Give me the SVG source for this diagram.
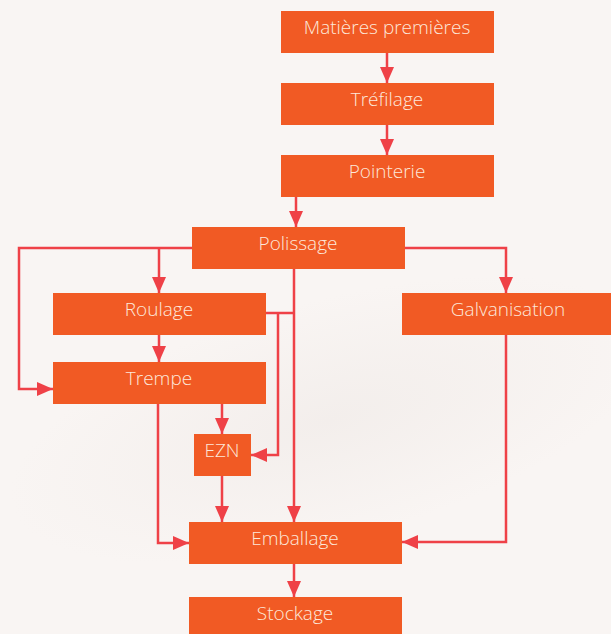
<svg xmlns="http://www.w3.org/2000/svg" width="611" height="634" viewBox="0 0 611 634">
<defs>
<style>
.box{fill:#F15A24;}
.lbl{font-family:"Open Sans","Noto Sans",sans-serif;font-weight:300;font-size:19px;fill:#FDE8DA;text-anchor:middle;}
.ln{fill:none;stroke:#EF4147;stroke-width:2.5;stroke-linejoin:miter;}
</style>
<marker id="ah" viewBox="0 0 16 14" refX="16" refY="7" markerWidth="16" markerHeight="14" markerUnits="userSpaceOnUse" orient="auto">
<path d="M0,0 L16,7 L0,14 Z" fill="#EF4147"/>
</marker>
<radialGradient id="bg1" cx="0.5" cy="0.5" r="0.5">
<stop offset="0" stop-color="#EDE7E4" stop-opacity="0.5"/>
<stop offset="1" stop-color="#EDE7E4" stop-opacity="0"/>
</radialGradient>
</defs>
<rect x="0" y="0" width="611" height="634" fill="#F9F5F3"/>
<ellipse cx="330" cy="420" rx="330" ry="120" fill="url(#bg1)" transform="rotate(-15 330 420)"/>
<g id="connectors">
<path class="ln" d="M387,52 V83" marker-end="url(#ah)"/>
<path class="ln" d="M387,125 V155" marker-end="url(#ah)"/>
<path class="ln" d="M296,196 V227" marker-end="url(#ah)"/>
<path class="ln" d="M192,248 H19 V389 H53" marker-end="url(#ah)"/>
<path class="ln" d="M159,248 V293" marker-end="url(#ah)"/>
<path class="ln" d="M159,335 V362" marker-end="url(#ah)"/>
<path class="ln" d="M405,248 H506 V293" marker-end="url(#ah)"/>
<path class="ln" d="M506,335 V542 H402" marker-end="url(#ah)"/>
<path class="ln" d="M294,269 V522" marker-end="url(#ah)"/>
<path class="ln" d="M266,313 H294"/>
<path class="ln" d="M278,313 V455 H251" marker-end="url(#ah)"/>
<path class="ln" d="M222,403 V434" marker-end="url(#ah)"/>
<path class="ln" d="M222,476 V522" marker-end="url(#ah)"/>
<path class="ln" d="M158,403 V543 H189" marker-end="url(#ah)"/>
<path class="ln" d="M294,563 V597" marker-end="url(#ah)"/>
</g>
<g id="matieres"><rect class="box" x="281" y="11" width="213" height="42"/><text class="lbl" x="387" y="34">Matières premières</text></g>
<g id="trefilage"><rect class="box" x="281" y="83" width="213" height="42"/><text class="lbl" x="387" y="106">Tréfilage</text></g>
<g id="pointerie"><rect class="box" x="281" y="155" width="213" height="42"/><text class="lbl" x="387" y="178">Pointerie</text></g>
<g id="polissage"><rect class="box" x="192" y="227" width="213" height="42"/><text class="lbl" x="298" y="250">Polissage</text></g>
<g id="roulage"><rect class="box" x="53" y="293" width="213" height="42"/><text class="lbl" x="159" y="316">Roulage</text></g>
<g id="galvanisation"><rect class="box" x="402" y="293" width="213" height="42"/><text class="lbl" x="508" y="316">Galvanisation</text></g>
<g id="trempe"><rect class="box" x="53" y="362" width="213" height="42"/><text class="lbl" x="159" y="385">Trempe</text></g>
<g id="ezn"><rect class="box" x="194" y="434" width="57" height="42"/><text class="lbl" x="222" y="457">EZN</text></g>
<g id="emballage"><rect class="box" x="189" y="522" width="213" height="42"/><text class="lbl" x="295" y="545">Emballage</text></g>
<g id="stockage"><rect class="box" x="189" y="597" width="213" height="42"/><text class="lbl" x="295" y="620">Stockage</text></g>
</svg>
